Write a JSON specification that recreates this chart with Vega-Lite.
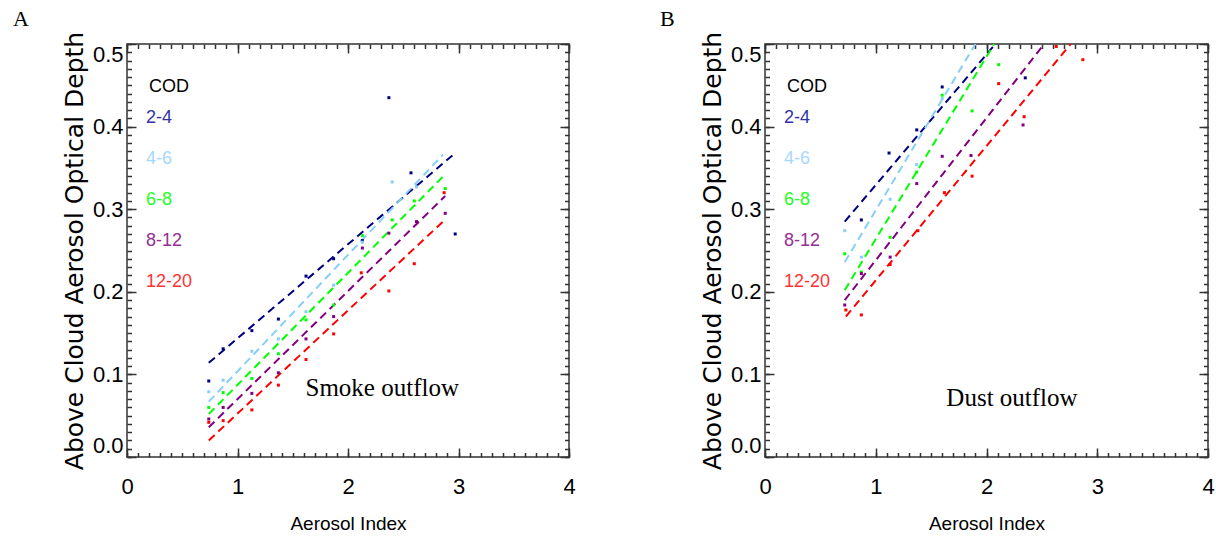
{
  "$schema": "https://vega.github.io/schema/vega-lite/v6.json",
  "background": "white",
  "padding": {"left": 12, "top": 7, "right": 0, "bottom": 0},
  "spacing": 83,
  "datasets": {
    "lines": [
      {"panel": "A", "cod": "2-4", "ai": 0.74, "aod": 0.114},
      {"panel": "A", "cod": "2-4", "ai": 2.97, "aod": 0.368},
      {"panel": "A", "cod": "4-6", "ai": 0.74, "aod": 0.067},
      {"panel": "A", "cod": "4-6", "ai": 2.86, "aod": 0.366},
      {"panel": "A", "cod": "6-8", "ai": 0.74, "aod": 0.052},
      {"panel": "A", "cod": "6-8", "ai": 2.87, "aod": 0.341},
      {"panel": "A", "cod": "8-12", "ai": 0.74, "aod": 0.036},
      {"panel": "A", "cod": "8-12", "ai": 2.88, "aod": 0.316},
      {"panel": "A", "cod": "12-20", "ai": 0.74, "aod": 0.020},
      {"panel": "A", "cod": "12-20", "ai": 2.86, "aod": 0.285},
      {"panel": "B", "cod": "2-4", "ai": 0.72, "aod": 0.285},
      {"panel": "B", "cod": "2-4", "ai": 2.08, "aod": 0.5},
      {"panel": "B", "cod": "4-6", "ai": 0.72, "aod": 0.236},
      {"panel": "B", "cod": "4-6", "ai": 1.90, "aod": 0.5},
      {"panel": "B", "cod": "6-8", "ai": 0.72, "aod": 0.202},
      {"panel": "B", "cod": "6-8", "ai": 2.07, "aod": 0.5},
      {"panel": "B", "cod": "8-12", "ai": 0.72, "aod": 0.190},
      {"panel": "B", "cod": "8-12", "ai": 2.52, "aod": 0.5},
      {"panel": "B", "cod": "12-20", "ai": 0.73, "aod": 0.170},
      {"panel": "B", "cod": "12-20", "ai": 2.76, "aod": 0.5}
    ],
    "pts": [
      {"panel": "A", "cod": "2-4", "ai": 0.74, "aod": 0.092},
      {"panel": "A", "cod": "2-4", "ai": 0.87, "aod": 0.131},
      {"panel": "A", "cod": "2-4", "ai": 1.13, "aod": 0.153},
      {"panel": "A", "cod": "2-4", "ai": 1.37, "aod": 0.167},
      {"panel": "A", "cod": "2-4", "ai": 1.62, "aod": 0.219},
      {"panel": "A", "cod": "2-4", "ai": 1.87, "aod": 0.240},
      {"panel": "A", "cod": "2-4", "ai": 2.13, "aod": 0.262},
      {"panel": "A", "cod": "2-4", "ai": 2.37, "aod": 0.435},
      {"panel": "A", "cod": "2-4", "ai": 2.57, "aod": 0.344},
      {"panel": "A", "cod": "2-4", "ai": 2.97, "aod": 0.270},
      {"panel": "A", "cod": "4-6", "ai": 0.74, "aod": 0.079},
      {"panel": "A", "cod": "4-6", "ai": 0.87, "aod": 0.093},
      {"panel": "A", "cod": "4-6", "ai": 1.13, "aod": 0.128},
      {"panel": "A", "cod": "4-6", "ai": 1.37, "aod": 0.143},
      {"panel": "A", "cod": "4-6", "ai": 1.62, "aod": 0.176},
      {"panel": "A", "cod": "4-6", "ai": 1.87, "aod": 0.208},
      {"panel": "A", "cod": "4-6", "ai": 2.13, "aod": 0.260},
      {"panel": "A", "cod": "4-6", "ai": 2.40, "aod": 0.333},
      {"panel": "A", "cod": "4-6", "ai": 2.62, "aod": 0.327},
      {"panel": "A", "cod": "6-8", "ai": 0.74, "aod": 0.060},
      {"panel": "A", "cod": "6-8", "ai": 0.87, "aod": 0.078},
      {"panel": "A", "cod": "6-8", "ai": 1.13, "aod": 0.095},
      {"panel": "A", "cod": "6-8", "ai": 1.37, "aod": 0.125},
      {"panel": "A", "cod": "6-8", "ai": 1.62, "aod": 0.166},
      {"panel": "A", "cod": "6-8", "ai": 1.87, "aod": 0.184},
      {"panel": "A", "cod": "6-8", "ai": 2.13, "aod": 0.268},
      {"panel": "A", "cod": "6-8", "ai": 2.40, "aod": 0.287},
      {"panel": "A", "cod": "6-8", "ai": 2.60, "aod": 0.310},
      {"panel": "A", "cod": "6-8", "ai": 2.88, "aod": 0.325},
      {"panel": "A", "cod": "8-12", "ai": 0.74, "aod": 0.046},
      {"panel": "A", "cod": "8-12", "ai": 0.87, "aod": 0.060},
      {"panel": "A", "cod": "8-12", "ai": 1.13, "aod": 0.077},
      {"panel": "A", "cod": "8-12", "ai": 1.37, "aod": 0.102},
      {"panel": "A", "cod": "8-12", "ai": 1.62, "aod": 0.143},
      {"panel": "A", "cod": "8-12", "ai": 1.87, "aod": 0.170},
      {"panel": "A", "cod": "8-12", "ai": 2.13, "aod": 0.253},
      {"panel": "A", "cod": "8-12", "ai": 2.37, "aod": 0.271},
      {"panel": "A", "cod": "8-12", "ai": 2.62, "aod": 0.285},
      {"panel": "A", "cod": "8-12", "ai": 2.88, "aod": 0.295},
      {"panel": "A", "cod": "12-20", "ai": 0.74, "aod": 0.042},
      {"panel": "A", "cod": "12-20", "ai": 0.87, "aod": 0.044},
      {"panel": "A", "cod": "12-20", "ai": 1.13, "aod": 0.057},
      {"panel": "A", "cod": "12-20", "ai": 1.37, "aod": 0.087},
      {"panel": "A", "cod": "12-20", "ai": 1.62, "aod": 0.118},
      {"panel": "A", "cod": "12-20", "ai": 1.87, "aod": 0.149},
      {"panel": "A", "cod": "12-20", "ai": 2.12, "aod": 0.223},
      {"panel": "A", "cod": "12-20", "ai": 2.37, "aod": 0.201},
      {"panel": "A", "cod": "12-20", "ai": 2.60, "aod": 0.234},
      {"panel": "A", "cod": "12-20", "ai": 2.87, "aod": 0.320},
      {"panel": "B", "cod": "2-4", "ai": 0.87, "aod": 0.287},
      {"panel": "B", "cod": "2-4", "ai": 1.12, "aod": 0.368},
      {"panel": "B", "cod": "2-4", "ai": 1.37, "aod": 0.396},
      {"panel": "B", "cod": "2-4", "ai": 1.60, "aod": 0.448},
      {"panel": "B", "cod": "2-4", "ai": 2.35, "aod": 0.459},
      {"panel": "B", "cod": "4-6", "ai": 0.72, "aod": 0.274},
      {"panel": "B", "cod": "4-6", "ai": 0.87, "aod": 0.242},
      {"panel": "B", "cod": "4-6", "ai": 1.13, "aod": 0.312},
      {"panel": "B", "cod": "4-6", "ai": 1.37, "aod": 0.354},
      {"panel": "B", "cod": "4-6", "ai": 1.60, "aod": 0.434},
      {"panel": "B", "cod": "6-8", "ai": 0.72, "aod": 0.246},
      {"panel": "B", "cod": "6-8", "ai": 0.87, "aod": 0.224},
      {"panel": "B", "cod": "6-8", "ai": 1.13, "aod": 0.266},
      {"panel": "B", "cod": "6-8", "ai": 1.37, "aod": 0.345},
      {"panel": "B", "cod": "6-8", "ai": 1.60, "aod": 0.438},
      {"panel": "B", "cod": "6-8", "ai": 1.87, "aod": 0.419},
      {"panel": "B", "cod": "6-8", "ai": 2.11, "aod": 0.475},
      {"panel": "B", "cod": "8-12", "ai": 0.72, "aod": 0.184},
      {"panel": "B", "cod": "8-12", "ai": 0.87, "aod": 0.222},
      {"panel": "B", "cod": "8-12", "ai": 1.13, "aod": 0.242},
      {"panel": "B", "cod": "8-12", "ai": 1.37, "aod": 0.331},
      {"panel": "B", "cod": "8-12", "ai": 1.60, "aod": 0.364},
      {"panel": "B", "cod": "8-12", "ai": 1.86, "aod": 0.365},
      {"panel": "B", "cod": "8-12", "ai": 2.33, "aod": 0.402},
      {"panel": "B", "cod": "12-20", "ai": 0.73, "aod": 0.178},
      {"panel": "B", "cod": "12-20", "ai": 0.87, "aod": 0.172},
      {"panel": "B", "cod": "12-20", "ai": 1.13, "aod": 0.233},
      {"panel": "B", "cod": "12-20", "ai": 1.38, "aod": 0.274},
      {"panel": "B", "cod": "12-20", "ai": 1.62, "aod": 0.320},
      {"panel": "B", "cod": "12-20", "ai": 1.87, "aod": 0.340},
      {"panel": "B", "cod": "12-20", "ai": 2.11, "aod": 0.452},
      {"panel": "B", "cod": "12-20", "ai": 2.34, "aod": 0.412},
      {"panel": "B", "cod": "12-20", "ai": 2.63, "aod": 0.497},
      {"panel": "B", "cod": "12-20", "ai": 2.87, "aod": 0.481}
    ]
  },
  "hconcat": [
    {
      "title": {"text": "A", "anchor": "start", "frame": "group", "dx": -114, "offset": 0},
      "width": 442,
      "height": 413,
      "layer": [
        {
          "data": {"name": "lines"},
          "transform": [{"filter": "datum.panel === 'A'"}],
          "mark": {"type": "line", "strokeDash": [8, 5], "strokeWidth": 2},
          "encoding": {
            "x": {"field": "ai", "type": "quantitative", "scale": {"domain": [0, 4], "nice": false},
              "axis": {"orient": "bottom", "title": "Aerosol Index", "values": [0, 1, 2, 3, 4], "format": "d",
                "tickSize": 9, "offset": -9, "labelPadding": 19, "labelFlush": false, "titlePadding": 17, "titleFontSize": 19}},
            "y": {"field": "aod", "type": "quantitative", "scale": {"domain": [0, 0.5], "nice": false},
              "axis": {"orient": "left", "title": "Above Cloud Aerosol Optical Depth", "values": [0, 0.1, 0.2, 0.3, 0.4, 0.5], "format": ".1f",
                "tickSize": 9, "offset": -9, "labelPadding": 4, "labelFlush": true, "titlePadding": 5, "titleFont": "DejaVu Sans", "titleFontSize": 25}},
            "color": {"field": "cod", "type": "nominal",
              "scale": {"domain": ["2-4", "4-6", "6-8", "8-12", "12-20"], "range": ["#00007f", "#87cefa", "#00ff00", "#800080", "#ff0000"]},
              "legend": {"title": "COD", "orient": "none", "legendX": 22, "legendY": 34, "padding": 0,
                "symbolType": "circle", "symbolSize": 0, "symbolStrokeWidth": 0, "symbolOpacity": 0, "labelOffset": -21,
                "rowPadding": 23, "titlePadding": 13,
                "labelColor": {"expr": "datum.value == '2-4' ? '#3232a6' : datum.value == '4-6' ? '#a6d8ff' : datum.value == '6-8' ? '#22ff22' : datum.value == '8-12' ? '#952e95' : '#ff3333'"}}}
          }
        },
        {
          "data": {"name": "pts"},
          "transform": [{"filter": "datum.panel === 'A'"}],
          "mark": {"type": "square", "size": 9, "opacity": 1, "filled": true},
          "encoding": {
            "x": {"field": "ai", "type": "quantitative", "scale": {"domain": [0, 4], "nice": false},
              "axis": {"orient": "bottom", "title": null, "labels": false, "tickSize": 4.5, "offset": -4.5,
                "values": [0,0.1,0.2,0.3,0.4,0.5,0.6,0.7,0.8,0.9,1,1.1,1.2,1.3,1.4,1.5,1.6,1.7,1.8,1.9,2,2.1,2.2,2.3,2.4,2.5,2.6,2.7,2.8,2.9,3,3.1,3.2,3.3,3.4,3.5,3.6,3.7,3.8,3.9,4]}},
            "y": {"field": "aod", "type": "quantitative", "scale": {"domain": [0, 0.5], "nice": false},
              "axis": {"orient": "left", "title": null, "labels": false, "tickSize": 4.5, "offset": -4.5,
                "values": [0,0.01,0.02,0.03,0.04,0.05,0.06,0.07,0.08,0.09,0.1,0.11,0.12,0.13,0.14,0.15,0.16,0.17,0.18,0.19,0.2,0.21,0.22,0.23,0.24,0.25,0.26,0.27,0.28,0.29,0.3,0.31,0.32,0.33,0.34,0.35,0.36,0.37,0.38,0.39,0.4,0.41,0.42,0.43,0.44,0.45,0.46,0.47,0.48,0.49,0.5]}},
            "color": {"field": "cod", "type": "nominal",
              "scale": {"domain": ["2-4", "4-6", "6-8", "8-12", "12-20"], "range": ["#00007f", "#87cefa", "#00ff00", "#800080", "#ff0000"]}}
          }
        },
        {
          "data": {"values": [{"label": "Smoke outflow"}]},
          "mark": {"type": "text", "font": "Liberation Serif", "fontSize": 25, "align": "center", "baseline": "middle", "color": "#000"},
          "encoding": {
            "x": {"datum": 2.31, "type": "quantitative",
              "axis": {"orient": "top", "title": null, "labels": false, "tickSize": 9, "offset": -9, "values": [0, 1, 2, 3, 4]}},
            "y": {"datum": 0.083, "type": "quantitative",
              "axis": {"orient": "right", "title": null, "labels": false, "tickSize": 9, "offset": -9, "values": [0, 0.1, 0.2, 0.3, 0.4, 0.5]}},
            "text": {"field": "label"}
          }
        },
        {
          "data": {"name": "pts"},
          "transform": [{"filter": "datum.panel === 'A'"}],
          "mark": {"type": "point", "opacity": 0},
          "encoding": {
            "x": {"field": "ai", "type": "quantitative", "scale": {"domain": [0, 4], "nice": false},
              "axis": {"orient": "top", "title": null, "labels": false, "tickSize": 4.5, "offset": -4.5,
                "values": [0,0.1,0.2,0.3,0.4,0.5,0.6,0.7,0.8,0.9,1,1.1,1.2,1.3,1.4,1.5,1.6,1.7,1.8,1.9,2,2.1,2.2,2.3,2.4,2.5,2.6,2.7,2.8,2.9,3,3.1,3.2,3.3,3.4,3.5,3.6,3.7,3.8,3.9,4]}},
            "y": {"field": "aod", "type": "quantitative", "scale": {"domain": [0, 0.5], "nice": false},
              "axis": {"orient": "right", "title": null, "labels": false, "tickSize": 4.5, "offset": -4.5,
                "values": [0,0.01,0.02,0.03,0.04,0.05,0.06,0.07,0.08,0.09,0.1,0.11,0.12,0.13,0.14,0.15,0.16,0.17,0.18,0.19,0.2,0.21,0.22,0.23,0.24,0.25,0.26,0.27,0.28,0.29,0.3,0.31,0.32,0.33,0.34,0.35,0.36,0.37,0.38,0.39,0.4,0.41,0.42,0.43,0.44,0.45,0.46,0.47,0.48,0.49,0.5]}}
          }
        }
      ],
      "resolve": {"axis": {"x": "independent", "y": "independent"}}
    },
    {
      "title": {"text": "B", "anchor": "start", "frame": "group", "dx": -105, "offset": 0},
      "width": 443,
      "height": 413,
      "layer": [
        {
          "data": {"name": "lines"},
          "transform": [{"filter": "datum.panel === 'B'"}],
          "mark": {"type": "line", "strokeDash": [8, 5], "strokeWidth": 2},
          "encoding": {
            "x": {"field": "ai", "type": "quantitative", "scale": {"domain": [0, 4], "nice": false},
              "axis": {"orient": "bottom", "title": "Aerosol Index", "values": [0, 1, 2, 3, 4], "format": "d",
                "tickSize": 9, "offset": -9, "labelPadding": 19, "labelFlush": false, "titlePadding": 17, "titleFontSize": 19}},
            "y": {"field": "aod", "type": "quantitative", "scale": {"domain": [0, 0.5], "nice": false},
              "axis": {"orient": "left", "title": "Above Cloud Aerosol Optical Depth", "values": [0, 0.1, 0.2, 0.3, 0.4, 0.5], "format": ".1f",
                "tickSize": 9, "offset": -9, "labelPadding": 4, "labelFlush": true, "titlePadding": 5, "titleFont": "DejaVu Sans", "titleFontSize": 25}},
            "color": {"field": "cod", "type": "nominal",
              "scale": {"domain": ["2-4", "4-6", "6-8", "8-12", "12-20"], "range": ["#00007f", "#87cefa", "#00ff00", "#800080", "#ff0000"]},
              "legend": {"title": "COD", "orient": "none", "legendX": 22, "legendY": 34, "padding": 0,
                "symbolType": "circle", "symbolSize": 0, "symbolStrokeWidth": 0, "symbolOpacity": 0, "labelOffset": -21,
                "rowPadding": 23, "titlePadding": 13,
                "labelColor": {"expr": "datum.value == '2-4' ? '#3232a6' : datum.value == '4-6' ? '#a6d8ff' : datum.value == '6-8' ? '#22ff22' : datum.value == '8-12' ? '#952e95' : '#ff3333'"}}}
          }
        },
        {
          "data": {"name": "pts"},
          "transform": [{"filter": "datum.panel === 'B'"}],
          "mark": {"type": "square", "size": 9, "opacity": 1, "filled": true},
          "encoding": {
            "x": {"field": "ai", "type": "quantitative", "scale": {"domain": [0, 4], "nice": false},
              "axis": {"orient": "bottom", "title": null, "labels": false, "tickSize": 4.5, "offset": -4.5,
                "values": [0,0.1,0.2,0.3,0.4,0.5,0.6,0.7,0.8,0.9,1,1.1,1.2,1.3,1.4,1.5,1.6,1.7,1.8,1.9,2,2.1,2.2,2.3,2.4,2.5,2.6,2.7,2.8,2.9,3,3.1,3.2,3.3,3.4,3.5,3.6,3.7,3.8,3.9,4]}},
            "y": {"field": "aod", "type": "quantitative", "scale": {"domain": [0, 0.5], "nice": false},
              "axis": {"orient": "left", "title": null, "labels": false, "tickSize": 4.5, "offset": -4.5,
                "values": [0,0.01,0.02,0.03,0.04,0.05,0.06,0.07,0.08,0.09,0.1,0.11,0.12,0.13,0.14,0.15,0.16,0.17,0.18,0.19,0.2,0.21,0.22,0.23,0.24,0.25,0.26,0.27,0.28,0.29,0.3,0.31,0.32,0.33,0.34,0.35,0.36,0.37,0.38,0.39,0.4,0.41,0.42,0.43,0.44,0.45,0.46,0.47,0.48,0.49,0.5]}},
            "color": {"field": "cod", "type": "nominal",
              "scale": {"domain": ["2-4", "4-6", "6-8", "8-12", "12-20"], "range": ["#00007f", "#87cefa", "#00ff00", "#800080", "#ff0000"]}}
          }
        },
        {
          "data": {"values": [{"label": "Dust outflow"}]},
          "mark": {"type": "text", "font": "Liberation Serif", "fontSize": 25, "align": "center", "baseline": "middle", "color": "#000"},
          "encoding": {
            "x": {"datum": 2.23, "type": "quantitative",
              "axis": {"orient": "top", "title": null, "labels": false, "tickSize": 9, "offset": -9, "values": [0, 1, 2, 3, 4]}},
            "y": {"datum": 0.071, "type": "quantitative",
              "axis": {"orient": "right", "title": null, "labels": false, "tickSize": 9, "offset": -9, "values": [0, 0.1, 0.2, 0.3, 0.4, 0.5]}},
            "text": {"field": "label"}
          }
        },
        {
          "data": {"name": "pts"},
          "transform": [{"filter": "datum.panel === 'B'"}],
          "mark": {"type": "point", "opacity": 0},
          "encoding": {
            "x": {"field": "ai", "type": "quantitative", "scale": {"domain": [0, 4], "nice": false},
              "axis": {"orient": "top", "title": null, "labels": false, "tickSize": 4.5, "offset": -4.5,
                "values": [0,0.1,0.2,0.3,0.4,0.5,0.6,0.7,0.8,0.9,1,1.1,1.2,1.3,1.4,1.5,1.6,1.7,1.8,1.9,2,2.1,2.2,2.3,2.4,2.5,2.6,2.7,2.8,2.9,3,3.1,3.2,3.3,3.4,3.5,3.6,3.7,3.8,3.9,4]}},
            "y": {"field": "aod", "type": "quantitative", "scale": {"domain": [0, 0.5], "nice": false},
              "axis": {"orient": "right", "title": null, "labels": false, "tickSize": 4.5, "offset": -4.5,
                "values": [0,0.01,0.02,0.03,0.04,0.05,0.06,0.07,0.08,0.09,0.1,0.11,0.12,0.13,0.14,0.15,0.16,0.17,0.18,0.19,0.2,0.21,0.22,0.23,0.24,0.25,0.26,0.27,0.28,0.29,0.3,0.31,0.32,0.33,0.34,0.35,0.36,0.37,0.38,0.39,0.4,0.41,0.42,0.43,0.44,0.45,0.46,0.47,0.48,0.49,0.5]}}
          }
        }
      ],
      "resolve": {"axis": {"x": "independent", "y": "independent"}}
    }
  ],
  "resolve": {"legend": {"color": "independent"}},
  "config": {
    "view": {"stroke": "#333333", "strokeWidth": 1.5},
    "axis": {
      "grid": false,
      "domain": false,
      "ticks": true,
      "tickColor": "#333333",
      "tickWidth": 1.5,
      "labelFont": "Liberation Sans",
      "labelFontSize": 22,
      "labelColor": "#000000",
      "labelOverlap": false,
      "titleFont": "Liberation Sans",
      "titleFontWeight": "normal",
      "titleColor": "#000000"
    },
    "legend": {
      "titleFont": "Liberation Sans",
      "titleFontSize": 18,
      "titleFontWeight": "normal",
      "titleColor": "#000000",
      "labelFont": "Liberation Sans",
      "labelFontSize": 18
    },
    "title": {
      "font": "Liberation Serif",
      "fontSize": 22,
      "fontWeight": "normal",
      "color": "#000000"
    }
  }
}
